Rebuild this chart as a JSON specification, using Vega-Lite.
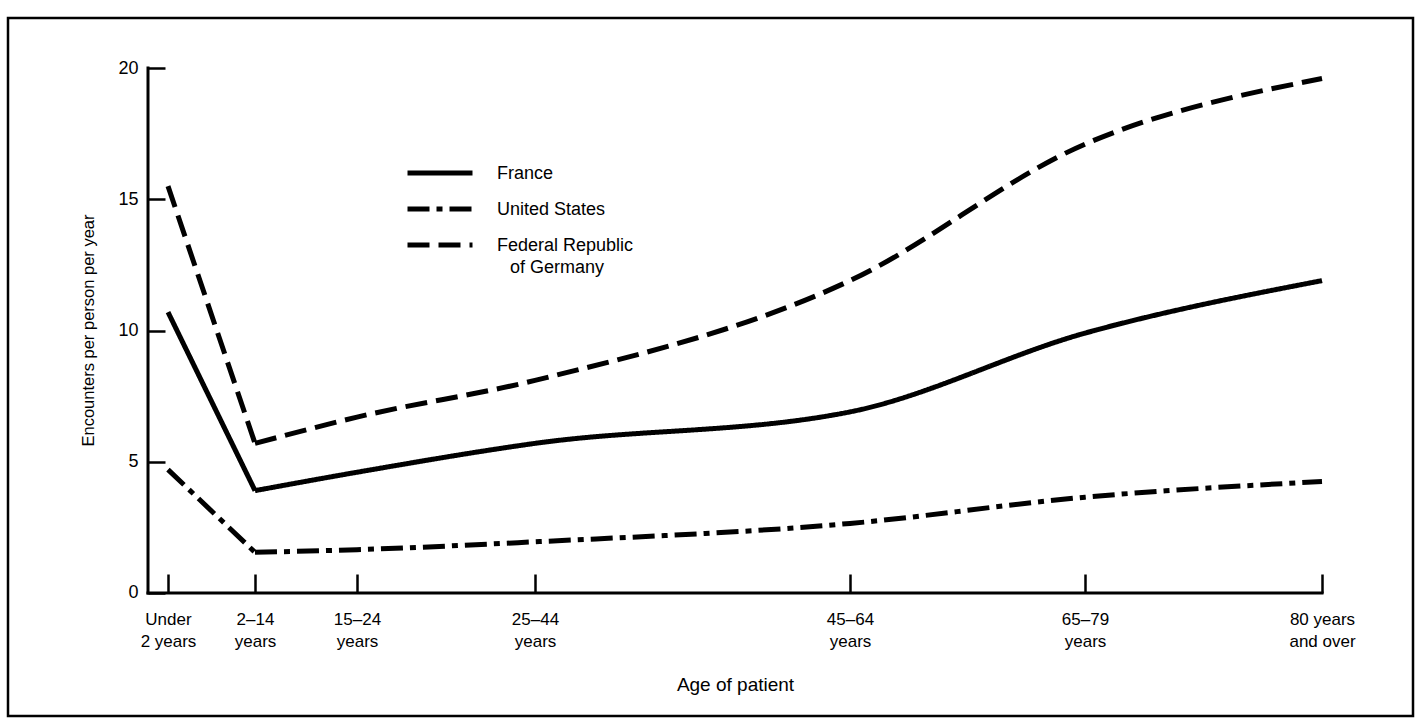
{
  "$schema": "https://vega.github.io/schema/vega-lite/v6.json",
  "width": 1405,
  "height": 698,
  "autosize": {"type": "none"},
  "padding": {"left": 8, "top": 18, "right": 2, "bottom": 2},
  "background": "white",
  "config": {
    "view": {"stroke": "black", "strokeWidth": 2.5},
    "font": "Liberation Sans"
  },
  "datasets": {
    "rates": [
      {"country": "France", "age_group": "Under 2 years", "pos": 2.0, "value": 10.7},
      {"country": "France", "age_group": "2-14 years", "pos": 10.7, "value": 3.9},
      {"country": "France", "age_group": "15-24 years", "pos": 20.9, "value": 4.6},
      {"country": "France", "age_group": "25-44 years", "pos": 38.7, "value": 5.7},
      {"country": "France", "age_group": "45-64 years", "pos": 70.2, "value": 6.9},
      {"country": "France", "age_group": "65-79 years", "pos": 93.7, "value": 9.9},
      {"country": "France", "age_group": "80 years and over", "pos": 117.4, "value": 11.9},
      {"country": "United States", "age_group": "Under 2 years", "pos": 2.0, "value": 4.7},
      {"country": "United States", "age_group": "2-14 years", "pos": 10.7, "value": 1.55},
      {"country": "United States", "age_group": "15-24 years", "pos": 20.9, "value": 1.65},
      {"country": "United States", "age_group": "25-44 years", "pos": 38.7, "value": 1.95},
      {"country": "United States", "age_group": "45-64 years", "pos": 70.2, "value": 2.65},
      {"country": "United States", "age_group": "65-79 years", "pos": 93.7, "value": 3.65},
      {"country": "United States", "age_group": "80 years and over", "pos": 117.4, "value": 4.25},
      {"country": "Federal Republic of Germany", "age_group": "Under 2 years", "pos": 2.0, "value": 15.5},
      {"country": "Federal Republic of Germany", "age_group": "2-14 years", "pos": 10.7, "value": 5.7},
      {"country": "Federal Republic of Germany", "age_group": "15-24 years", "pos": 20.9, "value": 6.7},
      {"country": "Federal Republic of Germany", "age_group": "25-44 years", "pos": 38.7, "value": 8.1},
      {"country": "Federal Republic of Germany", "age_group": "45-64 years", "pos": 70.2, "value": 11.9},
      {"country": "Federal Republic of Germany", "age_group": "65-79 years", "pos": 93.7, "value": 17.1},
      {"country": "Federal Republic of Germany", "age_group": "80 years and over", "pos": 117.4, "value": 19.6}
    ],
    "axislines": [
      {"pos": 0, "pos2": 117.4, "value": 0, "value2": 0},
      {"pos": 0, "pos2": 0, "value": 0, "value2": 20}
    ]
  },
  "encoding": {
    "x": {
      "field": "pos", "type": "quantitative",
      "scale": {"domain": [-14, 126.5], "nice": false, "zero": false},
      "axis": {
        "orient": "bottom", "offset": -123, "values": [2.0, 10.7, 20.9, 38.7, 70.2, 93.7, 117.4],
        "domain": false, "grid": false, "tickSize": -19, "tickWidth": 2.5, "tickColor": "black",
        "labelPadding": 37, "labelFlush": false, "labelOverlap": false, "labelFontSize": 17, "labelColor": "black", "labelLineHeight": 22,
        "labelExpr": "datum.value < 5 ? ['Under', '2 years'] : datum.value < 15 ? ['2–14', 'years'] : datum.value < 30 ? ['15–24', 'years'] : datum.value < 50 ? ['25–44', 'years'] : datum.value < 80 ? ['45–64', 'years'] : datum.value < 100 ? ['65–79', 'years'] : ['80 years', 'and over']",
        "title": "Age of patient", "titleFontSize": 19, "titleFontWeight": "normal", "titleColor": "black",
        "titleX": 727, "titleY": 91, "titleBaseline": "middle", "titleAnchor": "middle"
      }
    },
    "y": {
      "field": "value", "type": "quantitative",
      "scale": {"domain": [-4.686, 21.905], "nice": false, "zero": false},
      "axis": {
        "orient": "left", "offset": -140, "values": [0, 5, 10, 15, 20],
        "domain": false, "grid": false, "tickSize": -17, "tickWidth": 2.5, "tickColor": "black",
        "labelPadding": 27, "labelFontSize": 18, "labelColor": "black", "labelFlush": false,
        "title": "Encounters per person per year", "titleFontSize": 16.5, "titleFontWeight": "normal", "titleColor": "black",
        "titleX": -60, "titleY": 312, "titleBaseline": "middle", "titleAnchor": "middle"
      }
    }
  },
  "layer": [
    {
      "data": {"name": "axislines"},
      "mark": {"type": "rule", "color": "black", "strokeWidth": 3, "strokeCap": "square"},
      "encoding": {
        "x2": {"field": "pos2"},
        "y2": {"field": "value2"}
      }
    },
    {
      "data": {"name": "rates"},
      "transform": [{"filter": "datum.pos <= 11"}],
      "mark": {"type": "line", "interpolate": "linear", "strokeWidth": 5, "color": "black", "strokeCap": "butt"},
      "encoding": {
        "strokeDash": {
          "field": "country", "type": "nominal",
          "scale": {
            "domain": ["France", "United States", "Federal Republic of Germany"],
            "range": [[1, 0], [22, 7, 6, 7], [22, 9]]
          },
          "legend": {
            "title": null, "orient": "none", "legendX": 397, "legendY": 140,
            "symbolType": "stroke", "symbolSize": 4225, "symbolStrokeWidth": 5, "symbolStrokeColor": "black",
            "clipHeight": 30, "rowPadding": 6,
            "labelFontSize": 18, "labelColor": "black", "labelOffset": 22, "labelBaseline": "alphabetic", "labelLimit": 300,
            "labelExpr": "datum.label == 'Federal Republic of Germany' ? ['Federal Republic', '\u2800of Germany'] : datum.label",
            "encode": {"labels": {"update": {"dy": {"value": 6}, "lineHeight": {"value": 22}}}}
          }
        }
      }
    },
    {
      "data": {"name": "rates"},
      "transform": [{"filter": "datum.pos >= 10"}],
      "mark": {"type": "line", "interpolate": "monotone", "strokeWidth": 5, "color": "black", "strokeCap": "butt"},
      "encoding": {
        "strokeDash": {
          "field": "country", "type": "nominal",
          "scale": {
            "domain": ["France", "United States", "Federal Republic of Germany"],
            "range": [[1, 0], [22, 7, 6, 7], [22, 9]]
          },
          "legend": {
            "title": null, "orient": "none", "legendX": 397, "legendY": 140,
            "symbolType": "stroke", "symbolSize": 4225, "symbolStrokeWidth": 5, "symbolStrokeColor": "black",
            "clipHeight": 30, "rowPadding": 6,
            "labelFontSize": 18, "labelColor": "black", "labelOffset": 22, "labelBaseline": "alphabetic", "labelLimit": 300,
            "labelExpr": "datum.label == 'Federal Republic of Germany' ? ['Federal Republic', '\u2800of Germany'] : datum.label",
            "encode": {"labels": {"update": {"dy": {"value": 6}, "lineHeight": {"value": 22}}}}
          }
        }
      }
    }
  ]
}
